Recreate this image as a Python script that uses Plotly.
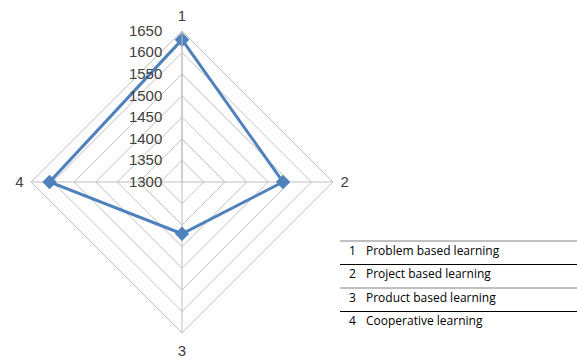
import plotly.graph_objects as go

# Teaching approaches (axis numbers) and their scores
axes = ["1", "2", "3", "4"]
scores = [1630, 1534, 1420, 1607]
method_names = [
    "Problem based learning",
    "Project based learning",
    "Product based learning",
    "Cooperative learning",
]
radial_ticks = [1300, 1350, 1400, 1450, 1500, 1550, 1600, 1650]

W, H = 577, 361
cx, cy, R = 182, 182, 151

fig = go.Figure()
fig.add_trace(go.Scatterpolar(
    r=scores + scores[:1],
    theta=axes + axes[:1],
    mode="lines+markers",
    line=dict(color="#4F81BD", width=3),
    marker=dict(symbol="diamond", size=11, color="#4F81BD"),
    showlegend=False,
    hoverinfo="skip",
))

grid = "#BFBFBF"
fig.update_layout(
    width=W, height=H,
    margin=dict(l=0, r=0, t=0, b=0),
    paper_bgcolor="white",
    plot_bgcolor="white",
    font=dict(family="Liberation Sans", color="#404040"),
    polar=dict(
        domain=dict(x=[(cx - R) / W, (cx + R) / W],
                    y=[(H - cy - R) / H, (H - cy + R) / H]),
        bgcolor="white",
        gridshape="linear",
        radialaxis=dict(
            range=[radial_ticks[0], radial_ticks[-1]],
            tickvals=radial_ticks,
            angle=90,
            tickangle=90,
            side="counterclockwise",
            showline=True,
            linecolor=grid,
            gridcolor=grid,
            gridwidth=1,
            ticks="outside",
            ticklen=14,
            tickcolor="rgba(0,0,0,0)",
            tickfont=dict(size=15, color="#404040"),
        ),
        angularaxis=dict(
            type="category",
            categoryarray=axes,
            rotation=90,
            direction="clockwise",
            showline=True,
            linecolor=grid,
            gridcolor=grid,
            ticks="outside",
            ticklen=4,
            tickcolor="rgba(0,0,0,0)",
            tickfont=dict(size=15, color="#404040"),
        ),
    ),
)

# Key table: number and method name per row, separated by rules
row_h = 23.5
top = 241
x0, x1 = 340, 577
rule_colors = ["#808080", "#000000", "#808080", "#000000"]
for i, (num, name) in enumerate(zip(axes, method_names)):
    y_line = top + i * row_h
    fig.add_shape(type="line", xref="paper", yref="paper",
                  x0=x0 / W, x1=x1 / W,
                  y0=1 - y_line / H, y1=1 - y_line / H,
                  line=dict(color=rule_colors[i], width=1))
    yc = 1 - (y_line + 9) / H
    fig.add_annotation(xref="paper", yref="paper", x=353 / W, y=yc,
                       text=num, showarrow=False, xanchor="center",
                       yanchor="middle",
                       font=dict(family="Open Sans", size=12, color="#000000"))
    fig.add_annotation(xref="paper", yref="paper", x=364 / W, y=yc,
                       text=name, showarrow=False, xanchor="left",
                       yanchor="middle",
                       font=dict(family="Open Sans", size=12, color="#000000"))

fig.write_html("out.html")
